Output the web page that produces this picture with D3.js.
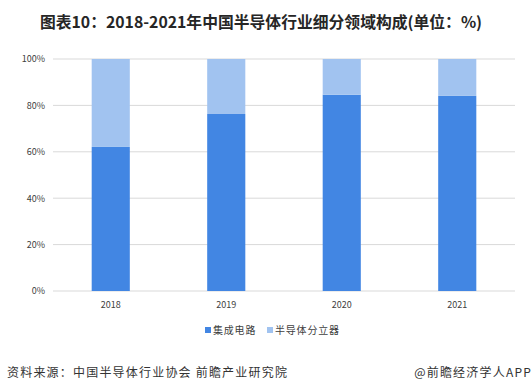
<!DOCTYPE html>
<html>
<head>
<meta charset="utf-8">
<script src="https://cdn.jsdelivr.net/npm/d3@7"></script>
<style>
  body { margin: 0; background: #fff; }
  text { font-family: "Noto Sans CJK SC", "Noto Sans", sans-serif; }
</style>
</head>
<body>
<div id="chart"></div>
<script>
// data
var years = ["2018", "2019", "2020", "2021"];
var icShare = [62.1, 76.3, 84.6, 84.1];          // 集成电路
var discreteShare = [37.9, 23.7, 15.4, 15.9];    // 半导体分立器
var seriesNames = ["集成电路", "半导体分立器"];
var seriesColors = ["#4286E3", "#A1C3F0"];
var yTicks = [0, 20, 40, 60, 80, 100];

var W = 532, H = 384;
var margin = {top: 59, right: 17, bottom: 93, left: 53},
  width = W - margin.left - margin.right,
  height = H - margin.top - margin.bottom;

var svg = d3.select("#chart").append("svg")
  .attr("width", W)
  .attr("height", H);

// title
svg.append("text")
  .attr("x", 261)
  .attr("y", 28)
  .attr("text-anchor", "middle")
  .attr("font-size", 15.8)
  .attr("font-weight", "bold")
  .attr("fill", "#262626")
  .text("图表10：2018-2021年中国半导体行业细分领域构成(单位：%)");

var g = svg.append("g")
  .attr("transform", "translate(" + margin.left + "," + margin.top + ")");

var x = d3.scaleBand()
  .domain(years)
  .range([0, width])
  .paddingInner(0.67)
  .paddingOuter(0.335);

var y = d3.scaleLinear()
  .domain([0, 100])
  .range([height, 0]);

// gridlines
g.append("g")
  .selectAll("line")
  .data(yTicks)
  .enter().append("line")
    .attr("x1", 0)
    .attr("x2", width)
    .attr("y1", function(d) { return y(d); })
    .attr("y2", function(d) { return y(d); })
    .attr("stroke", "#d9d9d9")
    .attr("stroke-width", 1);

// y axis labels
g.append("g")
  .call(d3.axisLeft(y).tickValues(yTicks).tickSize(0).tickPadding(8)
    .tickFormat(function(d) { return d + "%"; }))
  .call(function(a) { a.select(".domain").remove(); })
  .selectAll("text")
    .attr("font-family", "Liberation Sans, Arial, sans-serif")
    .attr("font-size", 9)
    .attr("fill", "#404040");

// stacked bars
var rows = years.map(function(yr, i) {
  return {year: yr, ic: icShare[i], discrete: discreteShare[i]};
});
var stack = d3.stack().keys(["ic", "discrete"]);
var layers = stack(rows);

g.selectAll(".layer")
  .data(layers)
  .enter().append("g")
    .attr("class", "layer")
    .attr("fill", function(d, i) { return seriesColors[i]; })
  .selectAll("rect")
  .data(function(d) { return d; })
  .enter().append("rect")
    .attr("x", function(d) { return x(d.data.year); })
    .attr("width", x.bandwidth())
    .attr("y", function(d) { return y(d[1]); })
    .attr("height", function(d) { return y(d[0]) - y(d[1]); });

// x axis labels
g.append("g")
  .attr("transform", "translate(0," + height + ")")
  .call(d3.axisBottom(x).tickSize(0).tickPadding(11))
  .call(function(a) { a.select(".domain").remove(); })
  .selectAll("text")
    .attr("font-family", "Liberation Sans, Arial, sans-serif")
    .attr("font-size", 9)
    .attr("fill", "#404040");

// legend
var legendX = [205, 267];
var legend = svg.append("g");
seriesNames.forEach(function(name, i) {
  legend.append("rect")
    .attr("x", legendX[i])
    .attr("y", 327)
    .attr("width", 6)
    .attr("height", 6)
    .attr("fill", seriesColors[i]);
  legend.append("text")
    .attr("x", legendX[i] + 8)
    .attr("y", 334)
    .attr("font-size", 10)
    .attr("letter-spacing", 0.8)
    .attr("fill", "#404040")
    .text(name);
});

// source line
svg.append("text")
  .attr("x", 7)
  .attr("y", 377)
  .attr("font-size", 12)
  .attr("letter-spacing", 1.2)
  .attr("fill", "#333")
  .text("资料来源：中国半导体行业协会 前瞻产业研究院");

svg.append("text")
  .attr("x", 532)
  .attr("y", 377)
  .attr("text-anchor", "end")
  .attr("font-size", 12)
  .attr("letter-spacing", 1.2)
  .attr("fill", "#333")
  .text("@前瞻经济学人APP");
</script>
</body>
</html>
